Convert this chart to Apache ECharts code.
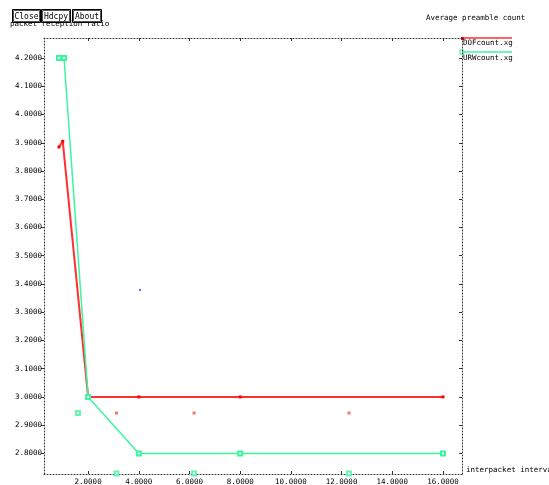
<!DOCTYPE html>
<html><head><meta charset="utf-8">
<script src="https://cdn.jsdelivr.net/npm/echarts@6/dist/echarts.min.js"></script>
<style>html,body{margin:0;padding:0;background:#fff}#c{width:549px;height:485px}</style>
</head><body><div id="c"></div>
<script>
// Data
const xTicks = [2, 4, 6, 8, 10, 12, 14, 16];
const yTicks = [2.8, 2.9, 3.0, 3.1, 3.2, 3.3, 3.4, 3.5, 3.6, 3.7, 3.8, 3.9, 4.0, 4.1, 4.2];
const dofX = [0.85, 1.0, 2, 4, 8, 16];
const dofY = [3.885, 3.905, 3.0, 3.0, 3.0, 3.0];
const urwX = [0.85, 1.05, 2, 4, 8, 16];
const urwY = [4.2, 4.2, 3.0, 2.8, 2.8, 2.8];
const dofStrayX = [1.6, 3.12, 6.18, 12.29];
const dofStrayY = [2.943, 2.943, 2.943, 2.943];
const urwStrayX = [1.6, 3.12, 6.18, 12.29];
const urwStrayY = [2.943, 2.729, 2.729, 2.729];
const blueX = [4.05];
const blueY = [3.379];
const xMin = 0.26, xMax = 16.75, yMin = 2.727, yMax = 4.271;

const zip = (a, b) => a.map((v, i) => [v, b[i]]);
const FONT = 'DejaVu Sans Mono';
const FS = 7.5;
const RED = '#ff3030', GREEN = '#3cf5a0';
const chart = echarts.init(document.getElementById('c'), null, {renderer: 'canvas'});
const dotted = {show: true, lineStyle: {color: '#333', type: [1, 2], width: 1}};
const fmt = v => Number(v).toFixed(4);

function button(x, w, label) {
  return {type: 'group', left: x, top: 8, children: [
    {type: 'rect', shape: {x: 0.5, y: 0.5, width: w, height: 13}, style: {fill: '#fff', stroke: '#000', lineWidth: 1}},
    {type: 'rect', shape: {x: 1.5, y: 1.5, width: w - 2, height: 11}, style: {fill: 'none', stroke: '#555', lineWidth: 1}},
    {type: 'text', x: w / 2 + 0.5, y: 7.5, style: {text: label, font: '8px ' + FONT, fill: '#000', align: 'center', verticalAlign: 'middle'}}
  ]};
}

chart.setOption({
  animation: false,
  backgroundColor: '#fff',
  grid: {left: 44, right: 87, top: 38, bottom: 11, containLabel: false, outerBoundsMode: 'none'},
  xAxis: [
    {type: 'value', min: xMin, max: xMax, position: 'bottom',
      axisLine: dotted, splitLine: {show: false},
      axisTick: {show: true, inside: true, length: 3, customValues: xTicks, lineStyle: {color: '#333'}},
      axisLabel: {customValues: xTicks, formatter: fmt, fontFamily: FONT, fontSize: FS, color: '#000', margin: 4},
      name: 'interpacket interva', nameLocation: 'end', nameGap: 4,
      nameTextStyle: {fontFamily: FONT, fontSize: FS, color: '#000', align: 'left', verticalAlign: 'bottom'}},
    {type: 'value', min: xMin, max: xMax, position: 'top',
      axisLine: dotted, splitLine: {show: false},
      axisTick: {show: true, inside: true, length: 3, customValues: xTicks, lineStyle: {color: '#333'}},
      axisLabel: {show: false}}
  ],
  yAxis: [
    {type: 'value', min: yMin, max: yMax, position: 'left',
      axisLine: dotted, splitLine: {show: false},
      axisTick: {show: true, inside: false, length: 3, customValues: yTicks, lineStyle: {color: '#333'}},
      axisLabel: {customValues: yTicks, formatter: fmt, fontFamily: FONT, fontSize: FS, color: '#000', margin: 2}},
    {type: 'value', min: yMin, max: yMax, position: 'right',
      axisLine: dotted, splitLine: {show: false},
      axisTick: {show: true, inside: true, length: 3, customValues: yTicks, lineStyle: {color: '#333'}},
      axisLabel: {show: false}}
  ],
  series: [
    {name: 'DOFcount.xg', type: 'line', data: zip(dofX, dofY), symbol: 'rect', symbolSize: 3,
      itemStyle: {color: '#ff0000'}, lineStyle: {color: RED, width: 2}, clip: false},
    {name: 'URWcount.xg', type: 'line', data: zip(urwX, urwY), symbol: 'emptyRect', symbolSize: 4,
      itemStyle: {color: GREEN, borderWidth: 1}, lineStyle: {color: GREEN, width: 1.5}, clip: false},
    {type: 'scatter', data: zip(dofStrayX, dofStrayY), symbol: 'rect', symbolSize: 3, itemStyle: {color: '#ff5050'}},
    {type: 'scatter', data: zip(urwStrayX, urwStrayY), symbol: 'emptyRect', symbolSize: 4, itemStyle: {color: GREEN, borderWidth: 1}, clip: false},
    {type: 'scatter', data: zip(blueX, blueY), symbol: 'rect', symbolSize: 2, itemStyle: {color: '#3030ff'}}
  ],
  graphic: [
    {type: 'text', left: 10, top: 20, style: {text: 'packet reception ratio', font: FS + 'px ' + FONT, fill: '#000'}},
    button(11, 28, 'Close'),
    button(40, 29, 'Hdcpy'),
    button(71, 29, 'About'),
    {type: 'text', left: 426, top: 14, style: {text: 'Average preamble count', font: FS + 'px ' + FONT, fill: '#000'}},
    {type: 'line', shape: {x1: 462, y1: 38, x2: 512, y2: 38}, style: {stroke: RED, lineWidth: 1.5}},
    {type: 'rect', shape: {x: 461, y: 37, width: 3, height: 3}, style: {fill: '#ff0000'}},
    {type: 'text', left: 463, top: 39, style: {text: 'DOFcount.xg', font: FS + 'px ' + FONT, fill: '#000'}},
    {type: 'line', shape: {x1: 462, y1: 52, x2: 512, y2: 52}, style: {stroke: GREEN, lineWidth: 1.5}},
    {type: 'rect', shape: {x: 460, y: 50, width: 4, height: 4}, style: {fill: 'none', stroke: GREEN, lineWidth: 1}},
    {type: 'text', left: 463, top: 54, style: {text: 'URWcount.xg', font: FS + 'px ' + FONT, fill: '#000'}}
  ]
});
</script></body></html>
